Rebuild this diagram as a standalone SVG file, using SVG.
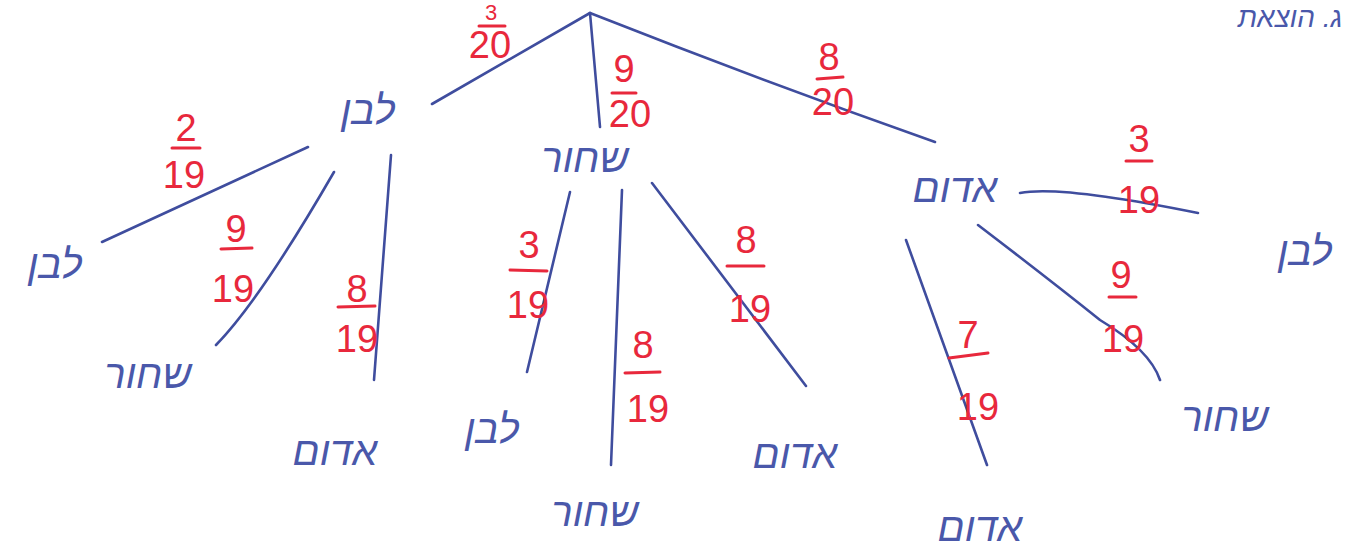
<svg xmlns="http://www.w3.org/2000/svg" width="1367" height="553" viewBox="0 0 1367 553">
<style>
.edge{fill:none;stroke:#3f4d9e;stroke-width:2.6;stroke-linecap:round}
.lbl{font-family:"Liberation Sans","DejaVu Sans",sans-serif;font-size:40px;fill:#4a58aa;text-anchor:middle;font-style:italic}
.num{font-family:"Liberation Sans",sans-serif;font-size:38px;fill:#e8283c;text-anchor:middle}
.bar{stroke:#e8283c;stroke-width:3;stroke-linecap:round}
</style>
<rect width="1367" height="553" fill="#ffffff"/>
<text class="lbl" x="1290" y="27" style="font-size:28px">ג. הוצאת</text>
<g id="connectors">
<path class="edge" d="M590,13 L432,104"/>
<path class="edge" d="M590,13 L600,127"/>
<path class="edge" d="M590,13 Q760,80 935,142"/>
<path class="edge" d="M308,147 L102,242"/>
<path class="edge" d="M334,172 Q260,300 216,345"/>
<path class="edge" d="M391,155 L374,380"/>
<path class="edge" d="M570,192 L527,372"/>
<path class="edge" d="M622,190 L611,465"/>
<path class="edge" d="M652,183 L806,386"/>
<path class="edge" d="M1020,193 Q1060,185 1198,213"/>
<path class="edge" d="M978,225 Q1050,280 1100,320 Q1150,350 1160,380"/>
<path class="edge" d="M906,240 L987,465"/>
</g>
<g id="n-white"><text class="lbl" x="368" y="124">לבן</text></g>
<g id="n-black"><text class="lbl" x="585" y="172">שחור</text></g>
<g id="n-red"><text class="lbl" x="955" y="202">אדום</text></g>
<g id="w-white"><text class="lbl" x="55" y="278">לבן</text></g>
<g id="w-black"><text class="lbl" x="148" y="388">שחור</text></g>
<g id="w-red"><text class="lbl" x="335" y="465">אדום</text></g>
<g id="b-white"><text class="lbl" x="492" y="443">לבן</text></g>
<g id="b-black"><text class="lbl" x="595" y="526">שחור</text></g>
<g id="b-red"><text class="lbl" x="795" y="468">אדום</text></g>
<g id="r-white"><text class="lbl" x="1305" y="265">לבן</text></g>
<g id="r-black"><text class="lbl" x="1225" y="431">שחור</text></g>
<g id="r-red"><text class="lbl" x="980" y="541">אדום</text></g>
<g id="probs">
<g><text class="num" x="491" y="20" style="font-size:22px">3</text><line class="bar" x1="479" y1="26" x2="505" y2="26"/><text class="num" x="490" y="58">20</text></g>
<g><text class="num" x="624" y="82">9</text><line class="bar" x1="612" y1="93" x2="636" y2="93"/><text class="num" x="630" y="127">20</text></g>
<g><text class="num" x="829" y="70">8</text><line class="bar" x1="817" y1="79" x2="843" y2="77"/><text class="num" x="833" y="115">20</text></g>
<g><text class="num" x="186" y="141">2</text><line class="bar" x1="172" y1="148" x2="200" y2="148"/><text class="num" x="184" y="188">19</text></g>
<g><text class="num" x="236" y="242">9</text><line class="bar" x1="221" y1="249" x2="252" y2="248"/><text class="num" x="233" y="302">19</text></g>
<g><text class="num" x="357" y="302">8</text><line class="bar" x1="338" y1="307" x2="375" y2="306"/><text class="num" x="357" y="352">19</text></g>
<g><text class="num" x="529" y="258">3</text><line class="bar" x1="510" y1="270" x2="547" y2="271"/><text class="num" x="528" y="318">19</text></g>
<g><text class="num" x="643" y="358">8</text><line class="bar" x1="625" y1="373" x2="660" y2="372"/><text class="num" x="648" y="422">19</text></g>
<g><text class="num" x="746" y="253">8</text><line class="bar" x1="727" y1="266" x2="764" y2="266"/><text class="num" x="750" y="322">19</text></g>
<g><text class="num" x="1139" y="152">3</text><line class="bar" x1="1126" y1="161" x2="1152" y2="161"/><text class="num" x="1139" y="213">19</text></g>
<g><text class="num" x="1121" y="288">9</text><line class="bar" x1="1109" y1="297" x2="1136" y2="297"/><text class="num" x="1123" y="352">19</text></g>
<g><text class="num" x="968" y="348">7</text><line class="bar" x1="949" y1="358" x2="988" y2="353"/><text class="num" x="978" y="420">19</text></g>
</g>
</svg>
